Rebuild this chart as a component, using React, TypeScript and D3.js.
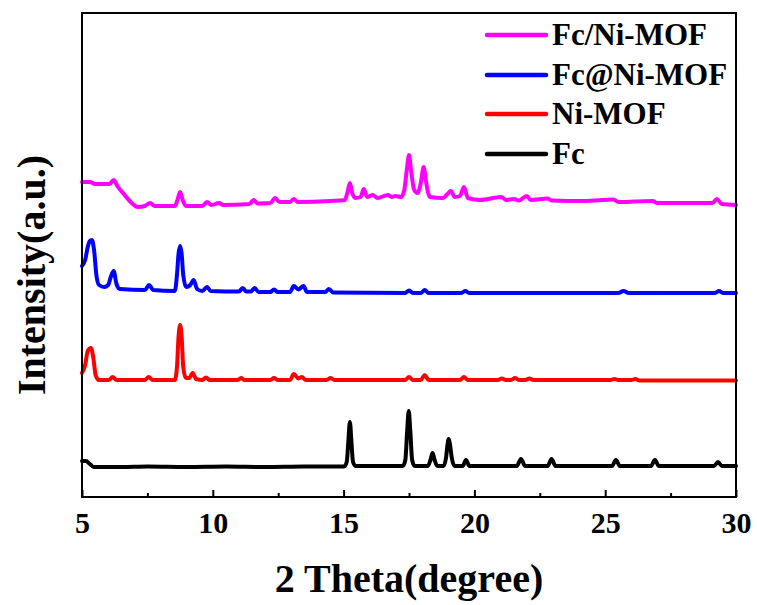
import React, { useEffect, useRef } from "react";
import * as d3 from "d3";

// ---------- data (2θ in degree, stacked intensity in a.u.) ----------
const seriesNames = ["Fc/Ni-MOF", "Fc@Ni-MOF", "Ni-MOF", "Fc"];
const seriesColors = ["#ff00ff", "#0000ff", "#ff0000", "#000000"];

const fcData: [number, number][] = [
  [5.0, 36], [5.15, 36], [5.3, 33], [5.45, 30], [6.5, 30], [7.5, 30.5], [9, 30], [10.5, 30.5], [12, 30], [13.5, 30.5],
  [15.02, 30.5], [15.12, 35], [15.18, 55], [15.24, 75], [15.3, 55], [15.36, 35], [15.46, 31], [16.5, 31],
  [17.26, 31], [17.36, 37], [17.43, 66], [17.49, 86], [17.55, 66], [17.62, 37], [17.72, 31],
  [18.22, 31], [18.32, 37], [18.4, 44], [18.48, 37], [18.58, 31],
  [18.82, 31], [18.92, 40], [18.97, 52], [19.02, 58], [19.07, 52], [19.13, 40], [19.24, 31],
  [19.55, 31], [19.68, 37], [19.81, 31], [21.62, 31], [21.78, 38], [21.94, 31], [22.8, 31], [22.95, 38], [23.1, 31],
  [25.26, 31], [25.41, 37], [25.56, 31], [26.75, 31], [26.9, 37], [27.05, 31], [29.16, 31], [29.31, 35], [29.46, 31], [30, 31],
];

const niMofData: [number, number][] = [
  [5.0, 124], [5.12, 132], [5.22, 146], [5.34, 149], [5.44, 138], [5.52, 122], [5.65, 117], [6.02, 117], [6.17, 120], [6.32, 117],
  [7.4, 117], [7.55, 120], [7.7, 117], [8.55, 117], [8.63, 130], [8.69, 160], [8.75, 172], [8.81, 160], [8.87, 130], [8.97, 119],
  [9.1, 119], [9.23, 124], [9.36, 118], [9.6, 117], [9.74, 119.5], [9.88, 117], [10.95, 117], [11.08, 119], [11.21, 117],
  [12.2, 117], [12.34, 119], [12.48, 117], [12.95, 117], [13.1, 123], [13.27, 118.5], [13.4, 120], [13.55, 117],
  [14.35, 117], [14.5, 119], [14.65, 117], [17.35, 117], [17.5, 120], [17.65, 117], [17.95, 117], [18.1, 122], [18.25, 117],
  [19.45, 117], [19.6, 120], [19.75, 117], [20.9, 117], [21.05, 118.5], [21.2, 117], [21.4, 117], [21.55, 119], [21.7, 117],
  [21.95, 117], [22.1, 118.5], [22.25, 117], [25.2, 117], [25.35, 118], [25.5, 117], [26.0, 117], [26.15, 118], [26.3, 116.5], [30, 116.5],
];

const fcAtNiMofData: [number, number][] = [
  [5.0, 231], [5.12, 237], [5.22, 250], [5.3, 256], [5.38, 257], [5.46, 247], [5.55, 222], [5.65, 212], [5.85, 210], [6.0, 212],
  [6.1, 220], [6.21, 226], [6.32, 213], [6.45, 208], [7.4, 207], [7.57, 212], [7.72, 207], [8.55, 206], [8.63, 222], [8.69, 243],
  [8.75, 251], [8.81, 243], [8.87, 222], [8.98, 210], [9.14, 212], [9.27, 217], [9.4, 208], [9.6, 206], [9.78, 210], [9.92, 206],
  [11.0, 205.5], [11.14, 209], [11.28, 205.5], [11.45, 205.5], [11.6, 209], [11.75, 205], [12.2, 205], [12.34, 207.5], [12.48, 205],
  [12.95, 205], [13.1, 211], [13.27, 207.5], [13.47, 211], [13.6, 205], [14.3, 205], [14.44, 208], [14.6, 204.5],
  [17.35, 204], [17.5, 206.5], [17.65, 204], [17.95, 204], [18.1, 207], [18.25, 204], [19.5, 204], [19.65, 206], [19.8, 204],
  [25.5, 204], [25.7, 206], [25.9, 204], [29.2, 204], [29.35, 206], [29.5, 204], [30, 204],
];

const fcSlashNiMofData: [number, number][] = [
  [5.0, 315], [5.3, 315], [5.5, 313], [5.8, 313], [6.05, 313], [6.21, 317], [6.35, 311], [6.6, 303], [6.9, 294], [7.13, 290],
  [7.4, 291], [7.6, 294], [7.78, 291], [8.55, 291], [8.65, 297], [8.75, 305], [8.85, 297], [8.97, 291], [9.6, 291], [9.78, 295],
  [9.95, 292], [10.24, 294], [10.4, 292], [11.4, 293], [11.56, 297], [11.72, 293.5], [12.2, 294], [12.38, 299], [12.55, 295],
  [12.95, 295], [13.1, 298], [13.25, 295], [14.5, 296], [15.05, 297], [15.15, 305], [15.24, 314], [15.33, 304], [15.45, 299],
  [15.65, 300], [15.77, 308], [15.9, 300], [16.11, 302], [16.3, 299], [16.69, 302], [16.85, 300], [16.97, 301], [17.2, 300],
  [17.32, 307], [17.42, 328], [17.5, 342], [17.58, 326], [17.7, 307], [17.83, 304], [17.95, 314], [18.06, 330], [18.17, 312],
  [18.3, 300], [18.8, 299], [18.97, 303], [19.1, 306], [19.25, 300], [19.45, 301], [19.6, 310], [19.75, 299], [20.2, 297],
  [21.04, 300], [21.2, 297], [21.5, 298], [21.7, 296.5], [22.0, 301], [22.15, 297], [22.8, 298.5], [22.95, 296.5], [24.2, 296],
  [25.32, 297.5], [25.5, 295], [26.8, 296], [27, 294], [29.1, 294], [29.27, 298], [29.45, 293], [30, 292],
];

const majorTicks = [5, 10, 15, 20, 25, 30];
const minorTicks = [7.5, 12.5, 17.5, 22.5, 27.5];
const xDomain: [number, number] = [5, 30];
const yDomain: [number, number] = [0, 484];

const W = 757;
const H = 605;
const FONT = "'Liberation Serif', 'Times New Roman', serif";

export default function App() {
  const ref = useRef<SVGSVGElement | null>(null);

  useEffect(() => {
    const svg = d3.select(ref.current);
    svg.selectAll("*").remove();

    const left = 82, right = 736, top = 13, bottom = 497;
    const x = d3.scaleLinear().domain(xDomain).range([left, right]);
    const y = d3.scaleLinear().domain(yDomain).range([bottom, top]);

    const allData = [fcSlashNiMofData, fcAtNiMofData, niMofData, fcData];
    const line = d3
      .line<[number, number]>()
      .x((d) => x(d[0]))
      .y((d) => y(d[1]))
      .curve(d3.curveMonotoneX);

    for (let i = allData.length - 1; i >= 0; i--) {
      svg
        .append("path")
        .attr("d", line(allData[i]) as string)
        .attr("fill", "none")
        .attr("stroke", seriesColors[i])
        .attr("stroke-width", 4)
        .attr("stroke-linejoin", "round")
        .attr("stroke-linecap", "round");
    }

    const gMaj = svg.append("g").attr("transform", `translate(0,${bottom})`);
    gMaj.call(d3.axisBottom(x).tickValues(majorTicks).tickSizeInner(-7).tickSizeOuter(0).tickPadding(15).tickFormat(d3.format("d")));
    gMaj.select(".domain").remove();
    gMaj.selectAll(".tick line").attr("stroke", "#000").attr("stroke-width", 2);
    gMaj
      .selectAll(".tick text")
      .attr("font-family", FONT)
      .attr("font-weight", "bold")
      .attr("font-size", 30)
      .attr("fill", "#000")
      .attr("dy", "0.71em");

    const gMin = svg.append("g").attr("transform", `translate(0,${bottom})`);
    gMin.call(d3.axisBottom(x).tickValues(minorTicks).tickSizeInner(-4).tickSizeOuter(0).tickFormat(() => ""));
    gMin.select(".domain").remove();
    gMin.selectAll(".tick line").attr("stroke", "#000").attr("stroke-width", 2);

    svg
      .append("rect")
      .attr("x", left)
      .attr("y", top)
      .attr("width", right - left)
      .attr("height", bottom - top)
      .attr("fill", "none")
      .attr("stroke", "#000")
      .attr("stroke-width", 2);

    svg
      .append("text")
      .attr("x", (left + right) / 2)
      .attr("y", 592)
      .attr("text-anchor", "middle")
      .attr("font-family", FONT)
      .attr("font-weight", "bold")
      .attr("font-size", 40)
      .text("2 Theta(degree)");

    svg
      .append("text")
      .attr("transform", `translate(45,275) rotate(-90)`)
      .attr("text-anchor", "middle")
      .attr("font-family", FONT)
      .attr("font-weight", "bold")
      .attr("font-size", 40)
      .text("Intensity(a.u.)");

    const legendRows = [35, 75, 114, 154];
    seriesNames.forEach((name, i) => {
      const ly = legendRows[i];
      svg
        .append("line")
        .attr("x1", 487)
        .attr("x2", 546)
        .attr("y1", ly)
        .attr("y2", ly)
        .attr("stroke", seriesColors[i])
        .attr("stroke-width", 4.5)
        .attr("stroke-linecap", "round");
      svg
        .append("text")
        .attr("x", 552)
        .attr("y", ly + 10)
        .attr("font-family", FONT)
        .attr("font-weight", "bold")
        .attr("font-size", 31)
        .attr("fill", "#000")
        .text(name);
    });
  }, []);

  return (
    <svg
      ref={ref}
      width={W}
      height={H}
      viewBox={`0 0 ${W} ${H}`}
      style={{ position: "absolute", left: 0, top: 0, background: "#fff" }}
    />
  );
}
